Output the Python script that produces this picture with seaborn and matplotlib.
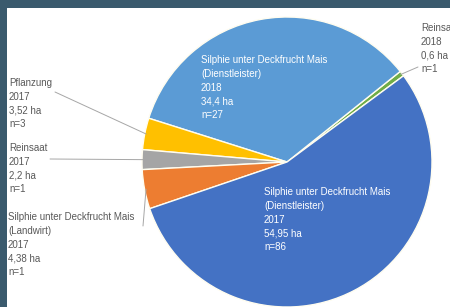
import numpy as np
import matplotlib
matplotlib.use("Agg")
import matplotlib.pyplot as plt
import seaborn as sns

# slice data, counter-clockwise order starting at the small green slice
labels = [
    "Reinsaat\n2018\n0,6 ha\nn=1",
    "Silphie unter Deckfrucht Mais\n(Dienstleister)\n2018\n34,4 ha\nn=27",
    "Pflanzung\n2017\n3,52 ha\nn=3",
    "Reinsaat\n2017\n2,2 ha\nn=1",
    "Silphie unter Deckfrucht Mais\n(Landwirt)\n2017\n4,38 ha\nn=1",
    "Silphie unter Deckfrucht Mais\n(Dienstleister)\n2017\n54,95 ha\nn=86",
]
hectares = [0.6, 34.4, 3.52, 2.2, 4.38, 54.95]
colors = ["#70AD47", "#5B9BD5", "#FFC000", "#A5A5A5", "#ED7D31", "#4472C4"]

sns.set_theme(style="white")
plt.rcParams["font.family"] = ["Liberation Sans", "DejaVu Sans"]

W, H = 450, 307
fig = plt.figure(figsize=(W / 100, H / 100), dpi=100, facecolor="#3A5A6D")

# white slide area
bg = fig.add_axes([7 / W, 0, 1 - 7 / W, (H - 8) / H])
bg.set_facecolor("white")
bg.set_axis_off()
bg.add_patch(plt.Rectangle((0, 0), 1, 1, transform=bg.transAxes, color="white"))

# pie axes: center (287,162) px, radius 145 px
cx, cy, r = 287, 162, 145
ax = fig.add_axes([(cx - r) / W, (H - cy - r) / H, 2 * r / W, 2 * r / H])
start = 36.5
wedges, _ = ax.pie(hectares, colors=colors, startangle=start, counterclock=True,
                   radius=1, wedgeprops=dict(edgecolor="#FFFDF0", linewidth=1.0))
ax.set_xlim(-1, 1)
ax.set_ylim(-1, 1)
ax.set_axis_off()


def px(x, y):
    return (x / W, 1 - y / H)


fs = 7
lsp = 1.47
grey = "#595959"

# inside labels
fig.text(*px(201, 55), labels[1], color="white", fontsize=fs, linespacing=lsp, va="top", ha="left")
fig.text(*px(264, 187), labels[5], color="white", fontsize=fs, linespacing=lsp, va="top", ha="left")

# outside labels with leader lines
outside = {0: (421, 23), 2: (9, 78), 3: (9, 143), 4: (8, 212)}
line_from = {0: (418, 67), 2: (55, 92), 3: (50, 159), 4: (143, 226)}
total = sum(hectares)
cum = np.cumsum([0] + hectares)
for i, (x, y) in outside.items():
    fig.text(*px(x, y), labels[i], color=grey, fontsize=fs, linespacing=lsp, va="top", ha="left")
    mid = np.deg2rad(start + (cum[i] + hectares[i] / 2) / total * 360)
    ax.annotate("", xy=(0.99 * np.cos(mid), 0.99 * np.sin(mid)), xycoords="data",
                xytext=px(*line_from[i]), textcoords="figure fraction",
                arrowprops=dict(arrowstyle="-", color="#A6A6A6", lw=0.7,
                                shrinkA=0, shrinkB=0))

fig.savefig("out.png", dpi=100, facecolor=fig.get_facecolor())
